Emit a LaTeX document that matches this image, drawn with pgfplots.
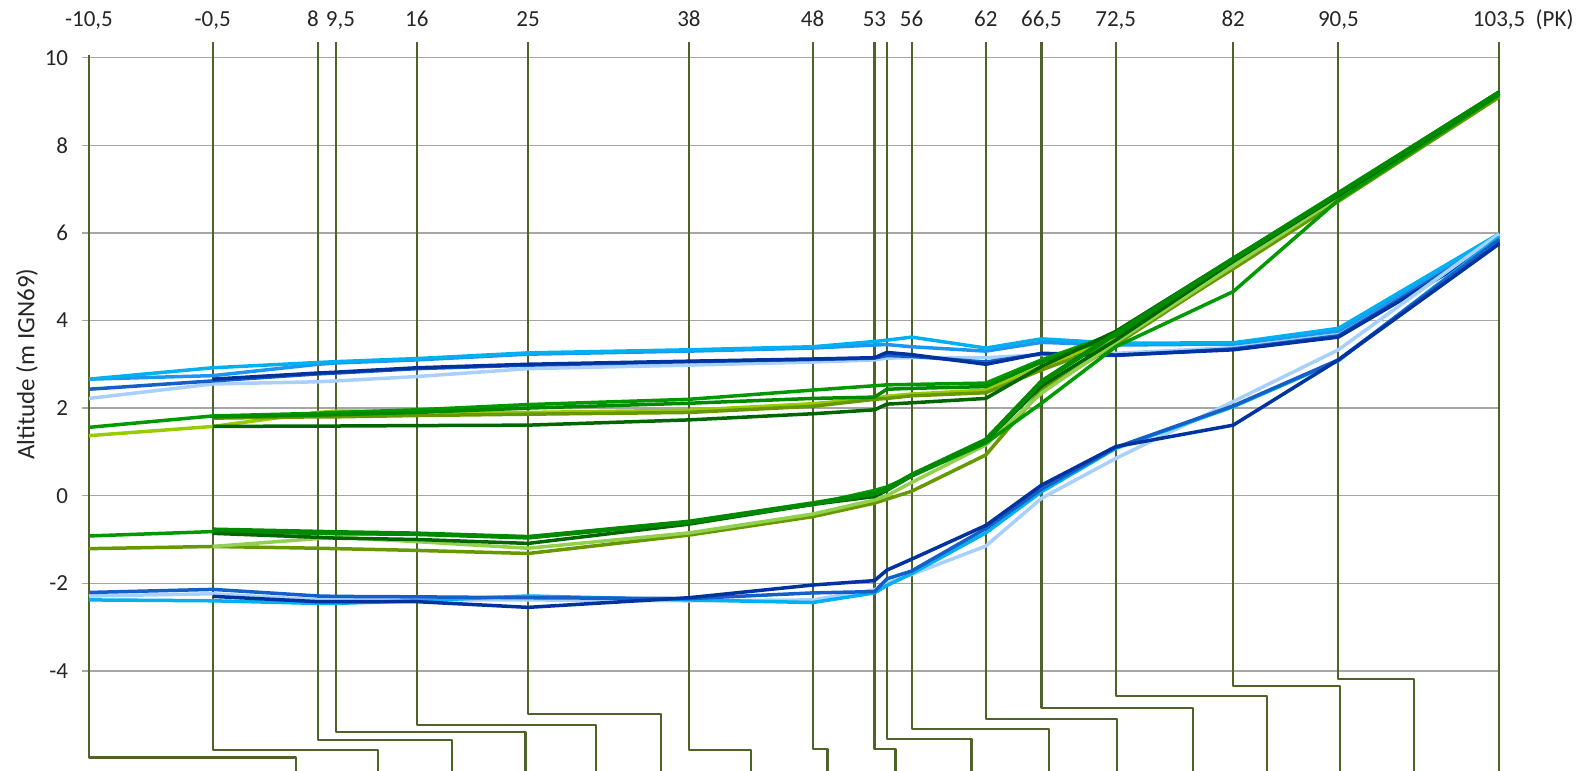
\documentclass[border=0pt]{standalone}
\usepackage{pgfplots}
\pgfplotsset{compat=1.18}
\usepackage{fontspec}
\setmainfont{Carlito}

\definecolor{leader}{HTML}{4F6228}
\definecolor{axisgray}{HTML}{A6A6A6}
\definecolor{lb}{HTML}{00B0F0}
\definecolor{lb2}{HTML}{1E96F0}
\definecolor{mb}{HTML}{1560C8}
\definecolor{db}{HTML}{0033A0}
\definecolor{pb}{HTML}{A8D0FF}
\definecolor{gr}{HTML}{009900}
\definecolor{gr2}{HTML}{008A00}
\definecolor{dg}{HTML}{006600}
\definecolor{yg}{HTML}{99CC00}
\definecolor{og}{HTML}{669900}
\definecolor{lyg}{HTML}{92D050}

\begin{document}
\begin{tikzpicture}
\begin{axis}[
  x=6.185pt, y=21.9pt,
  xmin=-10.5, xmax=103.5,
  ymin=-4, ymax=10,
  clip=false,
  separate axis lines,
  axis x line*=top, axis y line*=left,
  x axis line style={draw=none},
  y axis line style={draw=axisgray, line width=0.75pt},
  xtick={-10.5,-0.5,8,9.5,16,25,38,48,53,56,62,66.5,72.5,82,90.5,103.5},
  xticklabels={{-10,5},{-0,5},{\makebox[0pt]{8\kern5pt}},{\makebox[0pt]{\kern4pt 9,5}},16,25,38,48,53,56,62,{66,5},{72,5},82,{90,5},{103,5\rlap{\hspace{0.45em}(PK)}}},
  x tick style={draw=none},
  xticklabel style={anchor=base, yshift=12pt},
  ytick={-4,-2,0,2,4,6,8,10},
  yticklabels={-4,-2,0,2,4,6,8,10},
  y tick style={draw=axisgray, line width=0.75pt},
  yticklabel style={xshift=-3.4pt},
  tick align=outside, major tick length=3.5pt,
  ymajorgrids, grid style={axisgray, line width=0.75pt},
  ticklabel style={font=\fontsize{11.5}{12}\selectfont, text=black!85},
  ylabel={Altitude (m IGN69)},
  every axis y label/.style={at={(axis description cs:0,0.5)}, rotate=90, anchor=center, yshift=31pt, font=\fontsize{12.5}{14}\selectfont, text=black!85},
  no markers,
  every axis plot/.append style={line join=round},
  lead/.style={leader, line width=1.1pt},
  ser/.style={line width=1.75pt},
]
% leader lines from each PK down to the (cropped) labels below
\addplot[lead] coordinates {(-10.5,10.05) (-10.5,-5.98) (6.23,-5.98) (6.23,-7)};
\addplot[lead] coordinates {(-0.5,10.36) (-0.5,-5.81) (12.86,-5.81) (12.86,-7)};
\addplot[lead] coordinates {(8,10.36) (8,-5.58) (18.85,-5.58) (18.85,-7)};
\addplot[lead] coordinates {(9.5,10.36) (9.5,-5.39) (24.79,-5.39) (24.79,-7)};
\addplot[lead] coordinates {(16,10.36) (16,-5.24) (30.49,-5.24) (30.49,-7)};
\addplot[lead] coordinates {(25,10.36) (25,-4.98) (35.72,-4.98) (35.72,-7)};
\addplot[lead] coordinates {(38,10.36) (38,-5.81) (43.0,-5.81) (43.0,-7)};
\addplot[lead] coordinates {(48,10.36) (48,-5.78) (49.2,-5.78) (49.2,-7)};
\addplot[lead] coordinates {(53,10.36) (53,-5.79) (54.7,-5.79) (54.7,-7)};
\addplot[lead] coordinates {(54,10.36) (54,-5.55) (60.85,-5.55) (60.85,-7)};
\addplot[lead] coordinates {(56,10.36) (56,-5.32) (67.1,-5.32) (67.1,-7)};
\addplot[lead] coordinates {(62,10.36) (62,-5.09) (72.58,-5.09) (72.58,-7)};
\addplot[lead] coordinates {(66.5,10.36) (66.5,-4.84) (78.78,-4.84) (78.78,-7)};
\addplot[lead] coordinates {(72.5,10.36) (72.5,-4.57) (84.73,-4.57) (84.73,-7)};
\addplot[lead] coordinates {(82,10.36) (82,-4.34) (90.63,-4.34) (90.63,-7)};
\addplot[lead] coordinates {(90.5,10.36) (90.5,-4.18) (96.6,-4.18) (96.6,-7)};
\addplot[lead] coordinates {(103.5,10.36) (103.5,-7)};

% upper blue group
\addplot[ser, pb] coordinates {(-10.5,2.22) (-0.5,2.55) (8,2.6) (9.5,2.62) (16,2.72) (25,2.9) (38,2.98) (48,3.05) (53,3.1) (54,3.14) (56,3.15) (62,3.15) (66.5,3.22) (72.5,3.25) (82,3.38) (90.5,3.68) (103.5,5.96)};
\addplot[ser, lb2] coordinates {(-10.5,2.66) (-0.5,2.74) (8,3.0) (9.5,3.03) (16,3.1) (25,3.23) (38,3.3) (48,3.37) (53,3.44) (54,3.45) (56,3.40) (62,3.30) (66.5,3.50) (72.5,3.44) (82,3.46) (90.5,3.76) (103.5,5.92)};
\addplot[ser, lb] coordinates {(-10.5,2.66) (-0.5,2.92) (8,3.04) (9.5,3.06) (16,3.13) (25,3.26) (38,3.33) (48,3.40) (53,3.52) (54,3.55) (56,3.62) (62,3.37) (66.5,3.58) (72.5,3.48) (82,3.49) (90.5,3.82) (103.5,5.98)};
\addplot[ser, mb] coordinates {(-10.5,2.43) (-0.5,2.62) (8,2.78) (9.5,2.8) (16,2.9) (25,2.98) (38,3.06) (48,3.11) (53,3.14) (54,3.2) (56,3.18) (62,3.05) (66.5,3.24) (72.5,3.2) (82,3.35) (90.5,3.65) (103.5,5.85)};
\addplot[ser, db] coordinates {(-0.5,2.66) (8,2.8) (9.5,2.82) (16,2.92) (25,3.0) (38,3.07) (48,3.12) (53,3.15) (54,3.27) (56,3.22) (62,3.0) (66.5,3.25) (72.5,3.21) (82,3.33) (90.5,3.62) (103.5,5.78)};

% lower blue group
\addplot[ser, pb] coordinates {(-10.5,-2.29) (-0.5,-2.24) (8,-2.38) (9.5,-2.38) (16,-2.38) (25,-2.38) (38,-2.40) (48,-2.38) (53,-2.15) (54,-2.0) (56,-1.8) (62,-1.15) (66.5,-0.06) (72.5,0.85) (82,2.15) (90.5,3.33) (103.5,5.98)};
\addplot[ser, lb] coordinates {(-10.5,-2.38) (-0.5,-2.40) (8,-2.46) (9.5,-2.46) (16,-2.40) (25,-2.29) (38,-2.38) (48,-2.44) (53,-2.22) (54,-2.05) (56,-1.78) (62,-0.85) (66.5,0.09) (72.5,1.08) (82,2.03) (90.5,3.08) (103.5,5.9)};
\addplot[ser, mb] coordinates {(-10.5,-2.21) (-0.5,-2.14) (8,-2.29) (9.5,-2.3) (16,-2.31) (25,-2.33) (38,-2.35) (48,-2.22) (53,-2.19) (54,-1.9) (56,-1.72) (62,-0.75) (66.5,0.15) (72.5,1.1) (82,2.05) (90.5,3.1) (103.5,5.85)};
\addplot[ser, db] coordinates {(-0.5,-2.3) (8,-2.42) (9.5,-2.42) (16,-2.42) (25,-2.55) (38,-2.33) (48,-2.04) (53,-1.94) (54,-1.70) (56,-1.45) (62,-0.68) (66.5,0.24) (72.5,1.12) (82,1.61) (90.5,3.1) (103.5,5.75)};

% upper green group
\addplot[ser, yg] coordinates {(-10.5,1.37) (-0.5,1.58) (8,1.9) (9.5,1.93) (16,1.92) (25,1.9) (38,1.95) (48,2.1) (53,2.22) (54,2.27) (56,2.32) (62,2.41) (66.5,2.95) (72.5,3.6) (82,5.2) (90.5,6.75) (103.5,9.12)};
\addplot[ser, og] coordinates {(-0.5,1.77) (8,1.8) (9.5,1.8) (16,1.83) (25,1.86) (38,1.9) (48,2.04) (53,2.2) (54,2.22) (56,2.28) (62,2.35) (66.5,2.87) (72.5,3.5) (82,5.18) (90.5,6.72) (103.5,9.1)};
\addplot[ser, gr] coordinates {(-10.5,1.56) (-0.5,1.82) (8,1.88) (9.5,1.9) (16,1.96) (25,2.08) (38,2.2) (48,2.41) (53,2.51) (54,2.53) (56,2.54) (62,2.57) (66.5,3.1) (72.5,3.7) (82,5.35) (90.5,6.88) (103.5,9.2)};
\addplot[ser, gr2] coordinates {(-0.5,1.8) (8,1.84) (9.5,1.85) (16,1.9) (25,2.0) (38,2.11) (48,2.22) (53,2.25) (54,2.43) (56,2.45) (62,2.49) (66.5,3.05) (72.5,3.65) (82,5.3) (90.5,6.85) (103.5,9.18)};
\addplot[ser, dg] coordinates {(-0.5,1.58) (8,1.59) (9.5,1.59) (16,1.6) (25,1.61) (38,1.73) (48,1.87) (53,1.96) (54,2.09) (56,2.12) (62,2.22) (66.5,2.95) (72.5,3.75) (82,5.42) (90.5,6.9) (103.5,9.22)};

% lower green group
\addplot[ser, og] coordinates {(-10.5,-1.21) (-0.5,-1.16) (8,-1.2) (9.5,-1.21) (16,-1.25) (25,-1.32) (38,-0.9) (48,-0.48) (53,-0.17) (54,-0.08) (56,0.1) (62,0.93) (66.5,2.41) (72.5,3.45) (82,5.2) (90.5,6.75) (103.5,9.12)};
\addplot[ser, lyg] coordinates {(-0.5,-1.16) (8,-0.98) (9.5,-0.95) (16,-1.05) (25,-1.2) (38,-0.85) (48,-0.42) (53,-0.1) (54,0.0) (56,0.3) (62,1.16) (66.5,2.34) (72.5,3.5) (82,5.25) (90.5,6.8) (103.5,9.15)};
\addplot[ser, gr] coordinates {(-10.5,-0.92) (-0.5,-0.82) (8,-0.86) (9.5,-0.87) (16,-0.88) (25,-0.94) (38,-0.6) (48,-0.2) (53,0.12) (54,0.2) (56,0.45) (62,1.2) (66.5,2.11) (72.5,3.4) (82,4.66) (90.5,6.75) (103.5,9.15)};
\addplot[ser, dg] coordinates {(-0.5,-0.86) (8,-0.95) (9.5,-0.97) (16,-1.0) (25,-1.09) (38,-0.65) (48,-0.2) (53,-0.02) (54,0.12) (56,0.45) (62,1.25) (66.5,2.5) (72.5,3.55) (82,5.35) (90.5,6.85) (103.5,9.18)};
\addplot[gr2, line width=2.4pt] coordinates {(-0.5,-0.78) (8,-0.83) (9.5,-0.84) (16,-0.87) (25,-0.95) (38,-0.6) (48,-0.18) (53,0.05) (54,0.15) (56,0.47) (62,1.27) (66.5,2.6) (72.5,3.7) (82,5.4) (90.5,6.9) (103.5,9.2)};

\coordinate (bbl) at (axis cs:-17.695,-6.285);
\coordinate (btr) at (axis cs:110.116,11.317);
\end{axis}
\pgfresetboundingbox
\path[use as bounding box] (bbl) rectangle (btr);
\end{tikzpicture}
\end{document}
